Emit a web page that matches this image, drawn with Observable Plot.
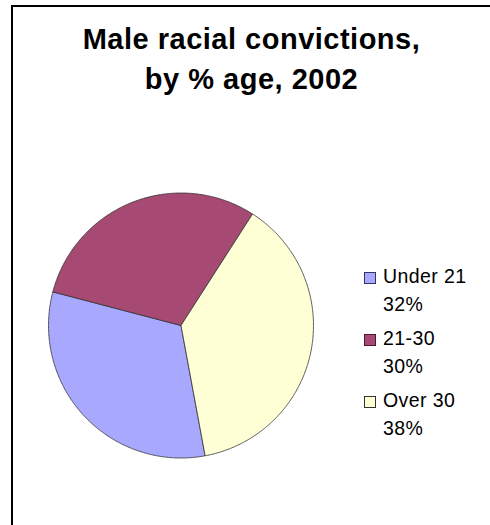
<!DOCTYPE html>
<html>
<head>
<meta charset="utf-8">
<script src="https://cdn.jsdelivr.net/npm/d3@7"></script>
<script src="https://cdn.jsdelivr.net/npm/@observablehq/plot@0.6"></script>
<style>
  html, body { margin: 0; padding: 0; background: #fff; overflow: hidden; width: 490px; height: 525px; }
  #wrap { position: relative; width: 490px; height: 525px; font-family: "Liberation Sans", Arial, sans-serif; }
  #frame { position: absolute; left: 11px; top: 5px; width: 500px; height: 560px; border-left: 2px solid #000; border-top: 2px solid #000; box-sizing: border-box; }
  #title { position: absolute; left: 11px; width: 481px; top: 19px; text-align: center; font-weight: bold; font-size: 29px; letter-spacing: 0.5px; line-height: 40px; color: #000; }
  #chart { position: absolute; left: 0; top: 0; }
  .leg { position: absolute; left: 364px; font-size: 19.5px; letter-spacing: 0.4px; line-height: 28px; color: #000; }
  .sw { position: absolute; left: 0; width: 10px; height: 10px; border: 1px solid #333; }
  .lt { position: absolute; left: 19px; white-space: nowrap; }
</style>
</head>
<body>
<div id="wrap">
  <div id="frame"></div>
  <div id="chart"></div>
  <div id="title">Male racial convictions,<br>by % age, 2002</div>
</div>
<script>
const categories = ["Under 21", "21-30", "Over 30"];
const values = [32, 30, 38];
const percentLabels = ["32%", "30%", "38%"];
const colors = ["#A8A8FF", "#A64A74", "#FFFFD6"];
const legendBorders = ["#333366", "#4d1a33", "#333"];

const startDeg = 169.5;
const arcs = d3.pie().sort(null).startAngle(startDeg * Math.PI / 180).endAngle((startDeg + 360) * Math.PI / 180)(values);

const pts = [];
arcs.forEach((a, i) => {
  const cat = categories[i];
  pts.push({cat, x: 0, y: 0});
  const n = Math.max(8, Math.ceil((a.endAngle - a.startAngle) / 0.01));
  for (let k = 0; k <= n; k++) {
    const t = a.startAngle + (a.endAngle - a.startAngle) * k / n;
    pts.push({cat, x: Math.sin(t), y: Math.cos(t)});
  }
  pts.push({cat, x: 0, y: 0});
});

const plot = Plot.plot({
  width: 490,
  height: 525,
  margin: 0,
  x: {domain: [-1, 1], range: [48, 313], axis: null},
  y: {domain: [-1, 1], range: [457.5, 192.5], axis: null},
  color: {type: "ordinal", domain: categories, range: colors},
  marks: [
    Plot.line(pts, {x: "x", y: "y", z: "cat", fill: "cat", stroke: "#333", strokeWidth: 0.8, strokeLinejoin: "round", curve: "linear"})
  ]
});
plot.style.background = "transparent";
document.getElementById("chart").appendChild(plot);

const wrap = document.getElementById("wrap");
categories.forEach((c, i) => {
  const top = 262 + i * 62;
  const g = document.createElement("div");
  g.className = "leg";
  g.style.top = top + "px";
  const sw = document.createElement("div");
  sw.className = "sw";
  sw.style.top = "10px";
  sw.style.background = colors[i];
  sw.style.borderColor = legendBorders[i];
  g.appendChild(sw);
  const t = document.createElement("div");
  t.className = "lt";
  t.innerHTML = c + "<br>" + percentLabels[i];
  g.appendChild(t);
  wrap.appendChild(g);
});
</script>
</body>
</html>
